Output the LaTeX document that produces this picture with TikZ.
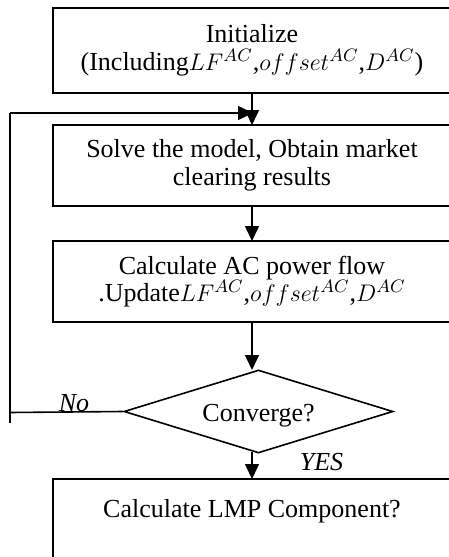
\documentclass[tikz,border=0pt]{standalone}
\usepackage{fontspec}
\setmainfont{Liberation Serif}
\usetikzlibrary{shapes.geometric,arrows.meta}
\tikzset{
  flowbox/.style={draw, line width=0.8pt, rectangle, minimum width=199pt, inner sep=0pt, align=center,
    font=\fontsize{13}{13.75}\selectfont},
  decision/.style={draw, line width=0.8pt, diamond, minimum width=134.5pt, minimum height=41.5pt,
    inner sep=0pt, aspect=3.24, font=\fontsize{13}{13.75}\selectfont},
  lbl/.style={font=\fontsize{13}{13.75}\selectfont\itshape, inner sep=0pt, anchor=base},
  conn/.style={line width=0.8pt},
  flowarrow/.style={conn, -{Triangle[length=7.5pt,width=7pt]}}
}
\begin{document}
\begin{tikzpicture}[x=0.5pt,y=-0.5pt]
\useasboundingbox (0,0) rectangle (449,557);
\fill[white] (0,0) rectangle (449,557);
\clip (0,0) rectangle (449,557);

\node[flowbox, minimum height=42.5pt] (init) at (252,50.5)
  {Initialize\\(Including$LF^{AC}$,$offset^{AC}$,$D^{AC}$)};
\node[flowbox, minimum height=40.5pt] (solve) at (252,165.5)
  {Solve the model, Obtain market\\clearing results};
\node[flowbox, minimum height=40.5pt] (acpf) at (252,281.5)
  {Calculate AC power flow\\.Update$LF^{AC}$,$offset^{AC}$,$D^{AC}$};
\node[decision] (conv) at (258.5,411.5) {};
\node[font=\fontsize{13}{13.75}\selectfont, inner sep=0pt, anchor=base] (convtxt) at (258.5,421) {Converge?};
\node[flowbox, anchor=base, text height=19pt, text depth=45pt] (lmp) at (252,517)
  {Calculate LMP Component?};

\node[lbl] (no) at (74,411) {No};
\node[lbl] (yes) at (321.5,470) {YES};

\coordinate (initb) at (252,93);
\coordinate (solvet) at (252,125);
\coordinate (solveb) at (252,206);
\coordinate (acpft) at (252,241);
\coordinate (acpfb) at (252,322);
\coordinate (convt) at (252,370);
\coordinate (convb) at (252,452);
\coordinate (lmpt) at (252,479);
\coordinate (nol) at (10,412.5);
\coordinate (loopb) at (10,423);
\coordinate (loopt) at (10,113);
\coordinate (loope) at (253,113);

\draw[flowarrow] (initb) -- (solvet);
\draw[flowarrow] (solveb) -- (acpft);
\draw[flowarrow] (acpfb) -- (convt);
\draw[flowarrow] (convb) -- (lmpt);
\draw[conn] (conv.west) -- (nol);
\draw[conn] (loopb) -- (loopt);
\draw[flowarrow] (loopt) -- (loope);
\end{tikzpicture}
\end{document}
